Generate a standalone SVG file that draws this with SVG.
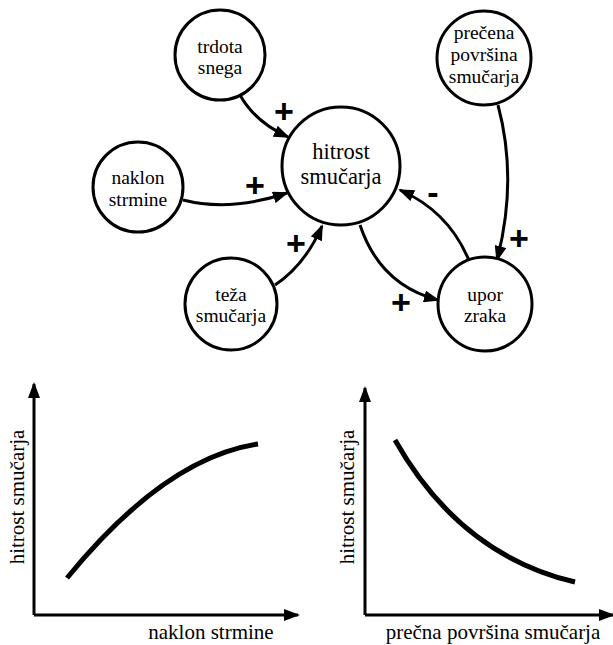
<svg xmlns="http://www.w3.org/2000/svg" width="613" height="645" viewBox="0 0 613 645">
<style>
.node{fill:#fff;stroke:#000;stroke-width:3}
.lbl{font-family:'Liberation Serif','Times New Roman',serif;font-size:19.5px;text-anchor:middle;fill:#000}
.big{font-size:22.5px}
.edge{fill:none;stroke:#000;stroke-width:3;marker-end:url(#ah)}
.sign{font-family:'Liberation Sans',Arial,sans-serif;font-size:34px;font-weight:bold;text-anchor:middle;fill:#000}
.axis{fill:none;stroke:#000;stroke-width:3;marker-end:url(#ax)}
.curve{fill:none;stroke:#000;stroke-width:5}
.alab{font-family:'Liberation Serif','Times New Roman',serif;font-size:21px;text-anchor:middle;fill:#000}
</style>
<defs>
<marker id="ah" markerUnits="userSpaceOnUse" markerWidth="16" markerHeight="12" refX="14" refY="6" orient="auto"><path d="M0,0 L16,6 L0,12 Z" fill="#000"/></marker>
<marker id="ax" markerUnits="userSpaceOnUse" markerWidth="16" markerHeight="12" refX="14" refY="6" orient="auto"><path d="M0,0 L16,6 L0,12 Z" fill="#000"/></marker>
</defs>
<g id="connectors">
<path class="edge" d="M240,95 Q255,122 288,137"/>
<path class="edge" d="M183,200 Q230,212 287,193"/>
<path class="edge" d="M275,285 Q305,265 322,226"/>
<path class="edge" d="M360,225 Q380,285 438,300"/>
<path class="edge" d="M470,263 Q450,212 400,190"/>
<path class="edge" d="M498,105 Q518,180 497,260"/>
<text class="sign" x="284" y="123">+</text>
<text class="sign" x="255" y="197">+</text>
<text class="sign" x="296" y="255">+</text>
<text class="sign" x="401" y="314">+</text>
<text class="sign" x="433" y="204">-</text>
<text class="sign" x="519" y="250">+</text>
</g>
<g id="trdota">
<circle class="node" cx="220" cy="55" r="45"/>
<text class="lbl" x="220" y="53">trdota</text>
<text class="lbl" x="220" y="74">snega</text>
</g>
<g id="naklon">
<circle class="node" cx="138" cy="187" r="45"/>
<text class="lbl" x="138" y="184">naklon</text>
<text class="lbl" x="138" y="206">strmine</text>
</g>
<g id="teza">
<circle class="node" cx="231" cy="304" r="46"/>
<text class="lbl" x="231" y="301">teža</text>
<text class="lbl" x="231" y="322">smučarja</text>
</g>
<g id="hitrost">
<circle class="node" cx="341" cy="166" r="59"/>
<text class="lbl big" x="341" y="159">hitrost</text>
<text class="lbl big" x="341" y="184">smučarja</text>
</g>
<g id="precena">
<circle class="node" cx="484" cy="58" r="47"/>
<text class="lbl" x="484" y="39">prečena</text>
<text class="lbl" x="484" y="61">površina</text>
<text class="lbl" x="484" y="83">smučarja</text>
</g>
<g id="upor">
<circle class="node" cx="485" cy="304" r="47"/>
<text class="lbl" x="485" y="301">upor</text>
<text class="lbl" x="485" y="322">zraka</text>
</g>
<g id="graph1">
<path class="axis" d="M34,615 L34,384"/>
<path class="axis" d="M34,615 L298,615"/>
<path class="curve" d="M67,578 Q165,458 258,444"/>
<text class="alab" transform="translate(24,497) rotate(-90)">hitrost smučarja</text>
<text class="alab" x="211" y="639" font-size="22">naklon strmine</text>
</g>
<g id="graph2">
<path class="axis" d="M365,615 L365,388"/>
<path class="axis" d="M365,615 L613,615"/>
<path class="curve" d="M395,440 Q460,555 575,582"/>
<text class="alab" transform="translate(354,497) rotate(-90)">hitrost smučarja</text>
<text class="alab" x="493" y="639">prečna površina smučarja</text>
</g>
</svg>
